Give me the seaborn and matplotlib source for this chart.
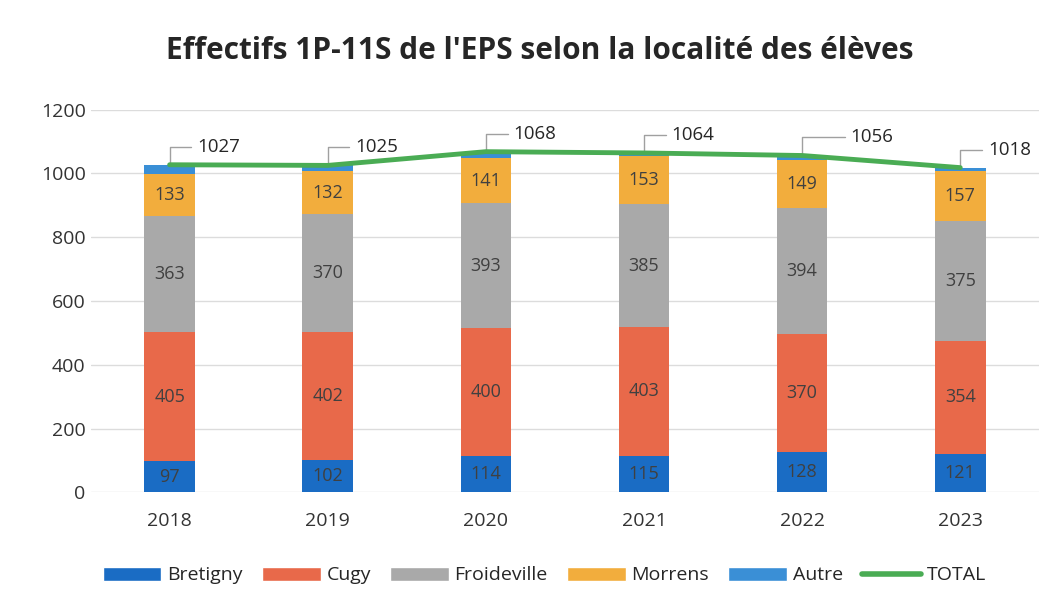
import numpy as np
import pandas as pd
import seaborn as sns
import matplotlib.pyplot as plt
from matplotlib.patches import Patch
from matplotlib.lines import Line2D

# --- données ---
annees = ['2018', '2019', '2020', '2021', '2022', '2023']
bretigny = [97, 102, 114, 115, 128, 121]
cugy = [405, 402, 400, 403, 370, 354]
froideville = [363, 370, 393, 385, 394, 375]
morrens = [133, 132, 141, 153, 149, 157]
autre = [29, 19, 20, 8, 15, 11]
total = [1027, 1025, 1068, 1064, 1056, 1018]

localites = ['Bretigny', 'Cugy', 'Froideville', 'Morrens', 'Autre']
couleurs = ['#1a6cc4', '#e8694a', '#a9a9a9', '#f2ad3d', '#3a8fd6']
vert = '#4aac54'

df = pd.DataFrame({'annee': annees, 'Bretigny': bretigny, 'Cugy': cugy,
                   'Froideville': froideville, 'Morrens': morrens, 'Autre': autre})
cumul = df[localites].cumsum(axis=1)

sns.set_theme(style="white")
plt.rcParams['font.family'] = ['Open Sans', 'DejaVu Sans']

fig, ax = plt.subplots(figsize=(10.53, 6.02), dpi=100)
fig.subplots_adjust(left=0.086, right=0.987, top=0.818, bottom=0.182)

# barres empilées : on dessine les cumuls du plus haut au plus bas
for loc, col in reversed(list(zip(localites, couleurs))):
    sns.barplot(x=df['annee'], y=cumul[loc], color=col, width=0.32,
                saturation=1, linewidth=0, ax=ax, zorder=2)

# étiquettes des segments (sauf Autre)
for i in range(len(annees)):
    bas = 0
    for loc in localites:
        v = df[loc][i]
        if loc != 'Autre':
            ax.text(i, bas + v / 2, str(v), ha='center', va='center',
                    fontsize=13, color='#404040', zorder=5)
        bas += v

# ligne TOTAL
sns.lineplot(x=np.arange(len(annees)), y=total, color=vert, linewidth=3.5,
             ax=ax, zorder=4)
decal = [20, 20, 20, 20, 35, 20]
for i, t in enumerate(total):
    ax.annotate(str(t), xy=(i, t), xytext=(decal[i], 13), textcoords='offset points',
                fontsize=13.5, color='#262626', ha='left', va='center',
                arrowprops=dict(arrowstyle='-', color='#a0a0a0', lw=1,
                                shrinkA=2, shrinkB=0,
                                connectionstyle='angle,angleA=0,angleB=90,rad=0'))

ax.set_ylim(0, 1200)
ax.set_yticks(range(0, 1201, 200))
ax.set_xlim(-0.5, len(annees) - 0.5)
ax.yaxis.grid(True, color='#dcdcdc', linewidth=1)
ax.set_axisbelow(True)
for s in ['top', 'right', 'left', 'bottom']:
    ax.spines[s].set_visible(False)
ax.tick_params(axis='both', labelsize=14, colors='#333333', length=0)
ax.tick_params(axis='x', pad=14)
ax.set_xlabel('')
ax.set_ylabel('')

fig.suptitle("Effectifs 1P-11S de l'EPS selon la localité des élèves",
             fontsize=21.5, fontweight='bold', color='#262626', y=0.94, x=0.513)

handles = [Patch(facecolor=c, label=l) for l, c in zip(localites, couleurs)]
handles.append(Line2D([0], [0], color=vert, linewidth=4, label='TOTAL'))
fig.legend(handles=handles, loc='lower center', ncol=6, frameon=False,
           fontsize=14, bbox_to_anchor=(0.517, 0.0), handlelength=3.0,
           handleheight=0.75, columnspacing=1.0, handletextpad=0.3)

fig.savefig('out.png', dpi=100, facecolor='white')
